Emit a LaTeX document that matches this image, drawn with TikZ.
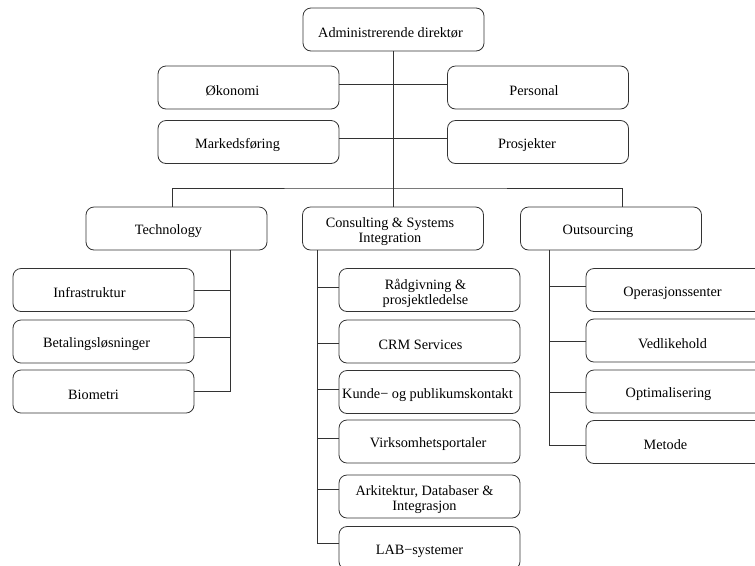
\documentclass[tikz,border=0pt]{standalone}
\usepackage{fontspec}
\setmainfont{Liberation Serif}
\usetikzlibrary{calc}
\begin{document}
\begin{tikzpicture}[x=0.75pt,y=-0.75pt,
  box/.style={draw=black!80, line width=0.6pt, rounded corners=6pt,
    minimum width=135.75pt, minimum height=32.25pt, inner sep=0pt},
  link/.style={draw=black!80, line width=0.6pt},
  every label/.style={font=\fontsize{10.7}{11.3}\selectfont, align=center,
    inner sep=0pt, yshift=-2.25pt}]
\fill[white] (0,0) rectangle (755,565);
\clip (0,0) rectangle (755,565);

% management
\node[box, label={[xshift=-2.25pt]center:Administrerende direktør}] (adm) at (393.5,29.5) {};
\node[box, label={[xshift=-12pt]center:Økonomi}] (okonomi) at (248.5,87.5) {};
\node[box, label={[xshift=-3pt]center:Personal}] (personal) at (538,87.5) {};
\node[box, label={[xshift=-8.25pt]center:Markedsføring}] (marked) at (248.5,142) {};
\node[box, label={[xshift=-8.25pt]center:Prosjekter}] (prosj) at (538,142) {};

% divisions
\node[box, label={[xshift=-6pt]center:Technology}] (tech) at (176.5,228.5) {};
\node[box, label={[xshift=-2.25pt]center:{Consulting \& Systems\\Integration}}] (csi) at (393,228.5) {};
\node[box, label={[xshift=-9.75pt]center:Outsourcing}] (outs) at (611,228.5) {};

% Technology
\node[box, label={[xshift=-10.5pt]center:Infrastruktur}] (infra) at (103.5,290) {};
\node[box, label={[xshift=-5.25pt]center:Betalingsløsninger}] (betal) at (103.5,341.5) {};
\node[box, label={[xshift=-7.5pt]center:Biometri}] (bio) at (103.5,391.5) {};

% Consulting & Systems Integration
\node[box, label={[xshift=-3pt]center:{Rådgivning \&\\prosjektledelse}}] (rad) at (429.5,290) {};
\node[box, label={[xshift=-6.75pt]center:CRM Services}] (crm) at (429.5,341.5) {};
\node[box, label={[xshift=-1.5pt]center:{Kunde− og publikumskontakt}}] (kunde) at (429.5,392) {};
\node[box, label={[xshift=-1pt]center:Virksomhetsportaler}] (virk) at (429.5,441.5) {};
\node[box, label={[xshift=-3.75pt]center:{Arkitektur, Databaser \&\\Integrasjon}}] (ark) at (429.5,496.5) {};
\node[box, label={[xshift=-7.5pt]center:LAB−systemer}] (lab) at (429.5,548) {};

% Outsourcing
\node[box, label={[xshift=-3pt]center:Operasjonssenter}] (oper) at (676.5,290) {};
\node[box, label={[xshift=-3pt]center:Vedlikehold}] (vedl) at (676.5,340.5) {};
\node[box, label={[xshift=-6pt]center:Optimalisering}] (optim) at (676.5,391.5) {};
\node[box, label={[xshift=-8.25pt]center:Metode}] (metode) at (676.5,442) {};

% top spine and bus
\coordinate (bus) at (394,188);
\draw[link] (adm.south) -- (adm.south |- bus);
\draw[link] ($(tech.north)+(-4.5,0)$) |- (bus) -| ($(outs.north)+(11,0)$);
\draw[link] (csi.north) -- (csi.north |- bus);

% staff functions
\draw[link] ($(okonomi.east)+(0,-3.5)$) -- ($(personal.west)+(0,-3.5)$);
\draw[link] ($(marked.east)+(0,-4)$) -- ($(prosj.west)+(0,-4)$);

% Technology branch
\coordinate (tspine) at (230,0);
\draw[link] (tspine |- tech.south) |- (bio.east);
\foreach \n/\d in {infra/0, betal/-4.5}{
  \path ($(\n.east)+(0,\d)$) coordinate (c);
  \draw[link] (c) -- (c -| tspine);
}

% Consulting branch
\coordinate (cspine) at (317,0);
\path ($(lab.west)+(0,-5)$) coordinate (clast);
\draw[link] (cspine |- csi.south) |- (clast);
\foreach \n/\d in {rad/-3, crm/1.5, kunde/-3, virk/-3.5, ark/-7.5}{
  \path ($(\n.west)+(0,\d)$) coordinate (c);
  \draw[link] (c) -- (c -| cspine);
}

% Outsourcing branch
\coordinate (ospine) at (549,0);
\path ($(metode.west)+(0,3)$) coordinate (olast);
\draw[link] (ospine |- outs.south) |- (olast);
\foreach \n/\d in {oper/-4, vedl/0.5, optim/0.5}{
  \path ($(\n.west)+(0,\d)$) coordinate (c);
  \draw[link] (c) -- (c -| ospine);
}
\end{tikzpicture}
\end{document}
